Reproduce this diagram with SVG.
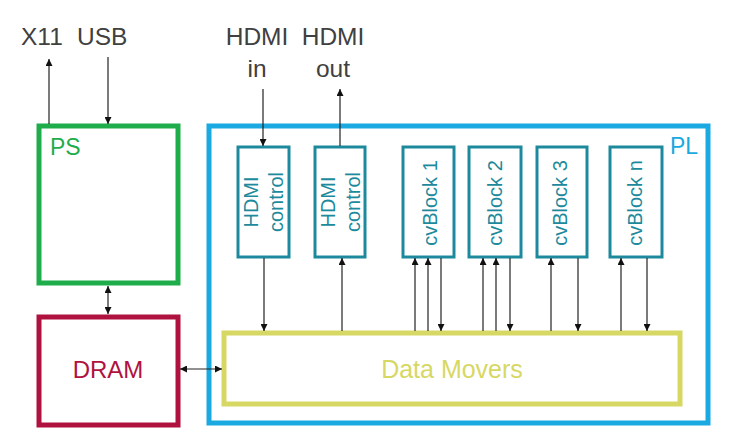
<svg xmlns="http://www.w3.org/2000/svg" width="740" height="447" viewBox="0 0 740 447">
<defs>
<marker id="ah" viewBox="0 0 10 10" refX="10" refY="5" markerWidth="7" markerHeight="7" markerUnits="userSpaceOnUse" orient="auto-start-reverse">
<path d="M0,0 L10,5 L0,10 z" fill="#111"/>
</marker>
<style>
.lbl{font-family:"Liberation Sans",Arial,sans-serif;font-size:24.5px;fill:#404040}
.blk{fill:#fff;stroke:#1c8a9c;stroke-width:3}
.bt{font-family:"Liberation Sans",Arial,sans-serif;font-size:20px;fill:#1c8a9c;text-anchor:middle}
.c{stroke:#222;stroke-width:1.2;fill:none}
.a{marker-end:url(#ah)}
.b{marker-start:url(#ah);marker-end:url(#ah)}
</style>
</defs>
<rect width="740" height="447" fill="#fff"/>
<g id="labels">
<text class="lbl" x="21" y="45">X11</text>
<text class="lbl" x="77" y="45">USB</text>
<text class="lbl" x="257" y="45" text-anchor="middle">HDMI</text>
<text class="lbl" x="257" y="77" text-anchor="middle">in</text>
<text class="lbl" x="333" y="45" text-anchor="middle">HDMI</text>
<text class="lbl" x="333" y="77" text-anchor="middle">out</text>
</g>
<g id="PS">
<rect x="39" y="126" width="139" height="157" fill="#fff" stroke="#1fad4b" stroke-width="5"/>
<text x="50" y="155" font-family="Liberation Sans,Arial,sans-serif" font-size="23" fill="#1fad4b">PS</text>
</g>
<g id="DRAM">
<rect x="39" y="317" width="139" height="108" fill="#fff" stroke="#b0123f" stroke-width="5"/>
<text x="108" y="378" font-family="Liberation Sans,Arial,sans-serif" font-size="24" fill="#b0123f" text-anchor="middle">DRAM</text>
</g>
<g id="PL">
<rect x="209" y="126" width="499" height="297" fill="#fff" stroke="#1aa9e0" stroke-width="5"/>
<text x="670" y="154" font-family="Liberation Sans,Arial,sans-serif" font-size="23" fill="#1aa9e0">PL</text>
</g>
<g id="DataMovers">
<rect x="224" y="333" width="456" height="71" fill="#fff" stroke="#d7d863" stroke-width="5"/>
<text x="452" y="378" font-family="Liberation Sans,Arial,sans-serif" font-size="25" fill="#d7d863" text-anchor="middle">Data Movers</text>
</g>
<g id="HDMIcontrol1">
<rect class="blk" x="238" y="147" width="51" height="110"/>
<text class="bt" transform="translate(258,202) rotate(-90)">HDMI</text>
<text class="bt" transform="translate(283,202) rotate(-90)">control</text>
</g>
<g id="HDMIcontrol2">
<rect class="blk" x="315" y="147" width="50" height="110"/>
<text class="bt" transform="translate(335,202) rotate(-90)">HDMI</text>
<text class="bt" transform="translate(360,202) rotate(-90)">control</text>
</g>
<g id="cvBlock1">
<rect class="blk" x="403" y="147" width="51" height="110"/>
<text class="bt" transform="translate(437,203) rotate(-90)">cvBlock 1</text>
</g>
<g id="cvBlock2">
<rect class="blk" x="469" y="147" width="52" height="110"/>
<text class="bt" transform="translate(502,203) rotate(-90)">cvBlock 2</text>
</g>
<g id="cvBlock3">
<rect class="blk" x="537" y="147" width="50" height="110"/>
<text class="bt" transform="translate(567,203) rotate(-90)">cvBlock 3</text>
</g>
<g id="cvBlockn">
<rect class="blk" x="610" y="147" width="52" height="110"/>
<text class="bt" transform="translate(642,203) rotate(-90)">cvBlock n</text>
</g>
<g id="connectors">
<line class="c a" x1="49" y1="124" x2="49" y2="59"/>
<line class="c a" x1="108" y1="57" x2="108" y2="124"/>
<line class="c a" x1="263" y1="89" x2="263" y2="146"/>
<line class="c a" x1="340" y1="146" x2="340" y2="89"/>
<line class="c b" x1="108" y1="286" x2="108" y2="314"/>
<line class="c b" x1="180" y1="369" x2="222" y2="369"/>
<line class="c a" x1="264" y1="258" x2="264" y2="331"/>
<line class="c a" x1="342" y1="331" x2="342" y2="258"/>
<line class="c a" x1="415" y1="331" x2="415" y2="258"/>
<line class="c a" x1="428" y1="331" x2="428" y2="258"/>
<line class="c a" x1="441" y1="258" x2="441" y2="331"/>
<line class="c a" x1="483" y1="331" x2="483" y2="258"/>
<line class="c a" x1="496" y1="331" x2="496" y2="258"/>
<line class="c a" x1="510" y1="258" x2="510" y2="331"/>
<line class="c a" x1="551" y1="331" x2="551" y2="258"/>
<line class="c a" x1="578" y1="258" x2="578" y2="331"/>
<line class="c a" x1="621" y1="331" x2="621" y2="258"/>
<line class="c a" x1="647" y1="258" x2="647" y2="331"/>
</g>
</svg>
